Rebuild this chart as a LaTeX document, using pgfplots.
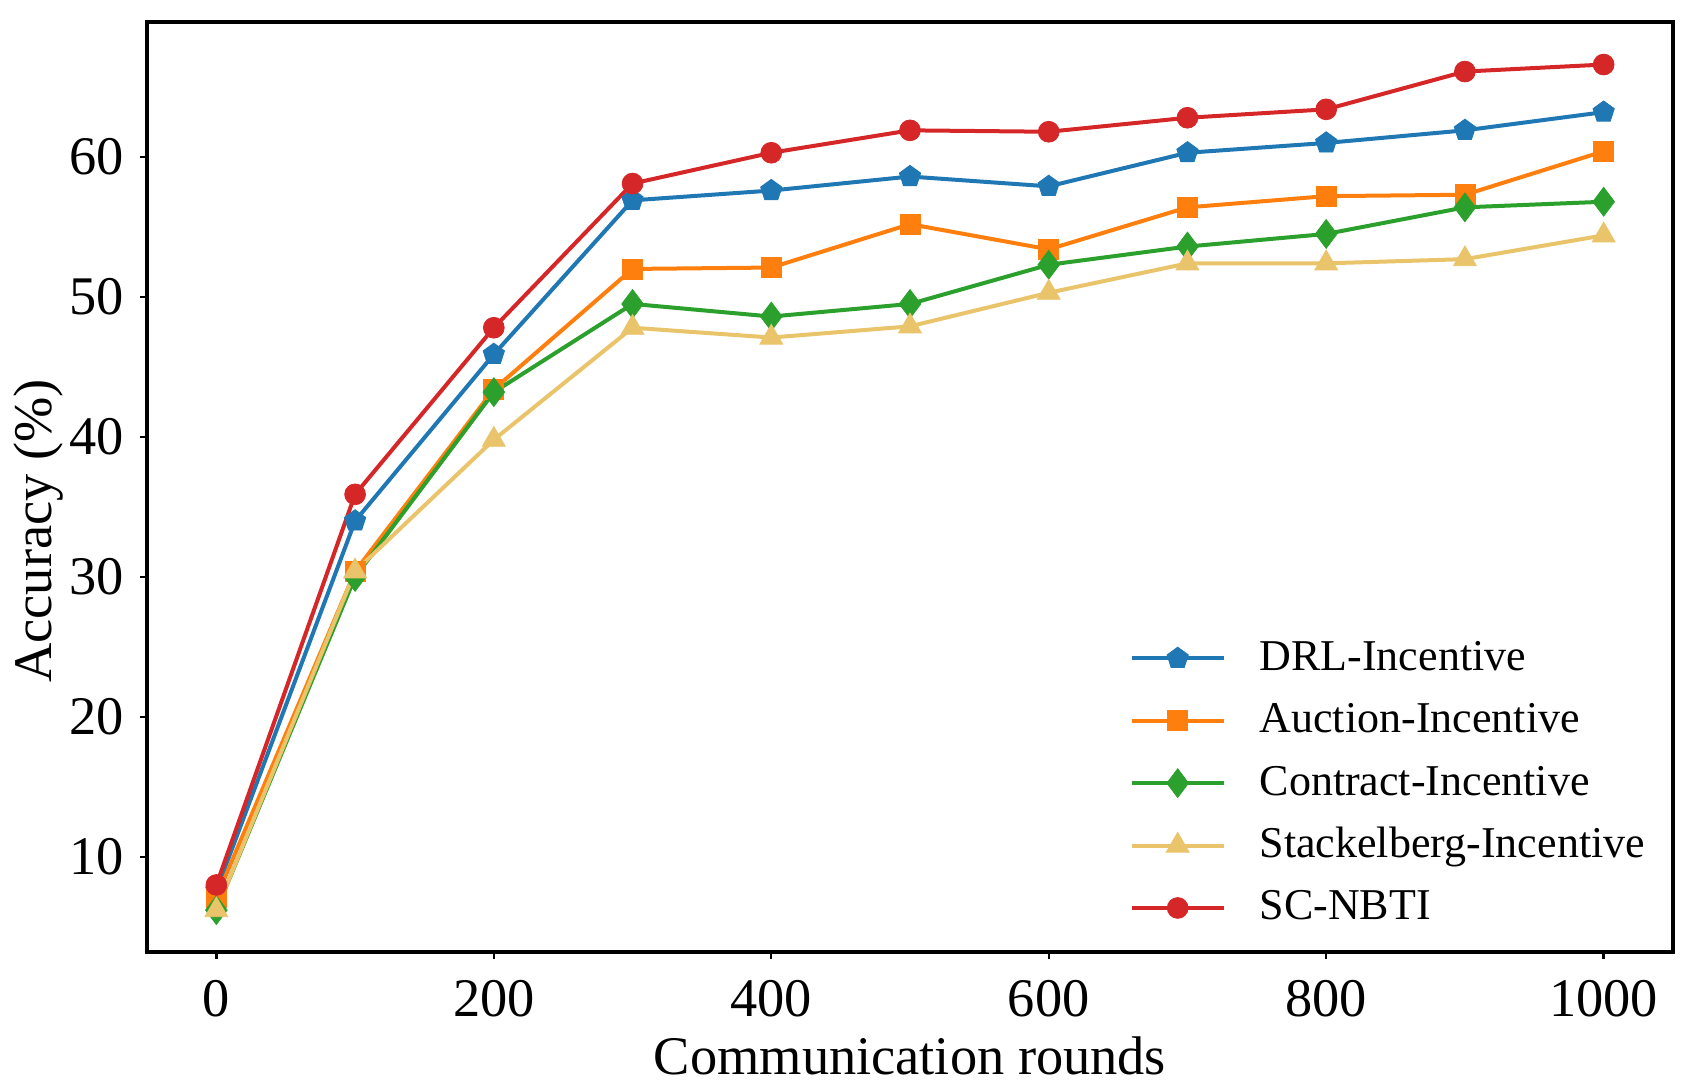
\documentclass[border=0pt]{standalone}
\usepackage{fontspec}
\setmainfont{Liberation Serif}
\usepackage{pgfplots}
\pgfplotsset{compat=1.18}
\usetikzlibrary{plotmarks}
\definecolor{cblue}{HTML}{1F77B4}
\definecolor{corange}{HTML}{FF7F0E}
\definecolor{cgreen}{HTML}{2CA02C}
\definecolor{ctan}{HTML}{E9C46A}
\definecolor{cred}{HTML}{D62728}
\begin{document}
\begin{tikzpicture}
\begin{axis}[
  name=ax,
  scale only axis,
  width=381.5pt, height=232.5pt,
  xmin=-50, xmax=1050, ymin=3.21, ymax=69.64,
  xtick={0,200,400,600,800,1000},
  ytick={10,20,30,40,50,60},
  tick align=outside, tick pos=left,
  major tick length=1.8pt,
  axis line style={line width=0.85pt},
  every tick/.style={black, line width=0.6pt},
  /pgf/number format/assume math mode=true,
  /pgf/number format/1000 sep={},
  ticklabel style={font=\fontsize{13.6}{16}\selectfont},
  xticklabel style={inner sep=0pt, yshift=-5pt},
  yticklabel style={inner sep=0pt, xshift=-3.75pt},
  xlabel={Communication rounds},
  ylabel={Accuracy (\%)},
  label style={font=\fontsize{13.6}{16}\selectfont, inner sep=0pt},
  xlabel style={at={(axis description cs:0.5,-0.1312)}, anchor=base},
  ylabel style={at={(axis description cs:-0.06225,0.4527)}, anchor=base},
  legend cell align=left,
  legend style={draw=none, fill=none, at={(axis description cs:0.9816,0.0237)}, anchor=south east,
    inner sep=0pt, outer sep=0pt, row sep=4.6pt, column sep=8.5pt,
    font=\fontsize{11}{13}\selectfont,
    nodes={inner sep=0pt, text height=8.5pt, text depth=2.5pt}},
  legend image code/.code={\draw[mark repeat=2, mark phase=2, #1] plot coordinates {(0pt,0pt) (11.5pt,0pt) (23pt,0pt)};},
  every axis plot/.append style={line width=1pt},
]
\addplot[color=cblue, mark=pentagon*, mark size=2.8pt, mark options={solid, line width=0.2pt}]
  coordinates {(0,7.6) (100,34.0) (200,45.9) (300,56.9) (400,57.6) (500,58.6) (600,57.9) (700,60.3) (800,61.0) (900,61.9) (1000,63.2)};
\addlegendentry{DRL-Incentive}
\addplot[color=corange, mark=square*, mark size=2.5pt, mark options={solid, line width=0.2pt}]
  coordinates {(0,7.1) (100,30.4) (200,43.4) (300,52.0) (400,52.1) (500,55.2) (600,53.4) (700,56.4) (800,57.2) (900,57.3) (1000,60.4)};
\addlegendentry{Auction-Incentive}
\addplot[color=cgreen, mark=diamond*, mark size=3.6pt, mark options={solid, line width=0.2pt}]
  coordinates {(0,6.2) (100,30.0) (200,43.2) (300,49.5) (400,48.6) (500,49.5) (600,52.3) (700,53.6) (800,54.5) (900,56.4) (1000,56.8)};
\addlegendentry{Contract-Incentive}
\addplot[color=ctan, mark=triangle*, mark size=3.3pt, mark options={solid, line width=0.2pt}]
  coordinates {(0,6.2) (100,30.4) (200,39.8) (300,47.8) (400,47.1) (500,47.9) (600,50.3) (700,52.4) (800,52.4) (900,52.7) (1000,54.4)};
\addlegendentry{Stackelberg-Incentive}
\addplot[color=cred, mark=*, mark size=2.6pt, mark options={solid, line width=0.2pt}]
  coordinates {(0,8.0) (100,35.9) (200,47.8) (300,58.1) (400,60.3) (500,61.9) (600,61.8) (700,62.8) (800,63.4) (900,66.1) (1000,66.6)};
\addlegendentry{SC-NBTI}
\end{axis}
\path (ax.south west) ++(-36.75pt,-34.75pt) coordinate (bbsw);
\path (ax.north east) ++(4.5pt,5.5pt) coordinate (bbne);
\path (bbsw) rectangle (bbne);
\end{tikzpicture}
\end{document}
